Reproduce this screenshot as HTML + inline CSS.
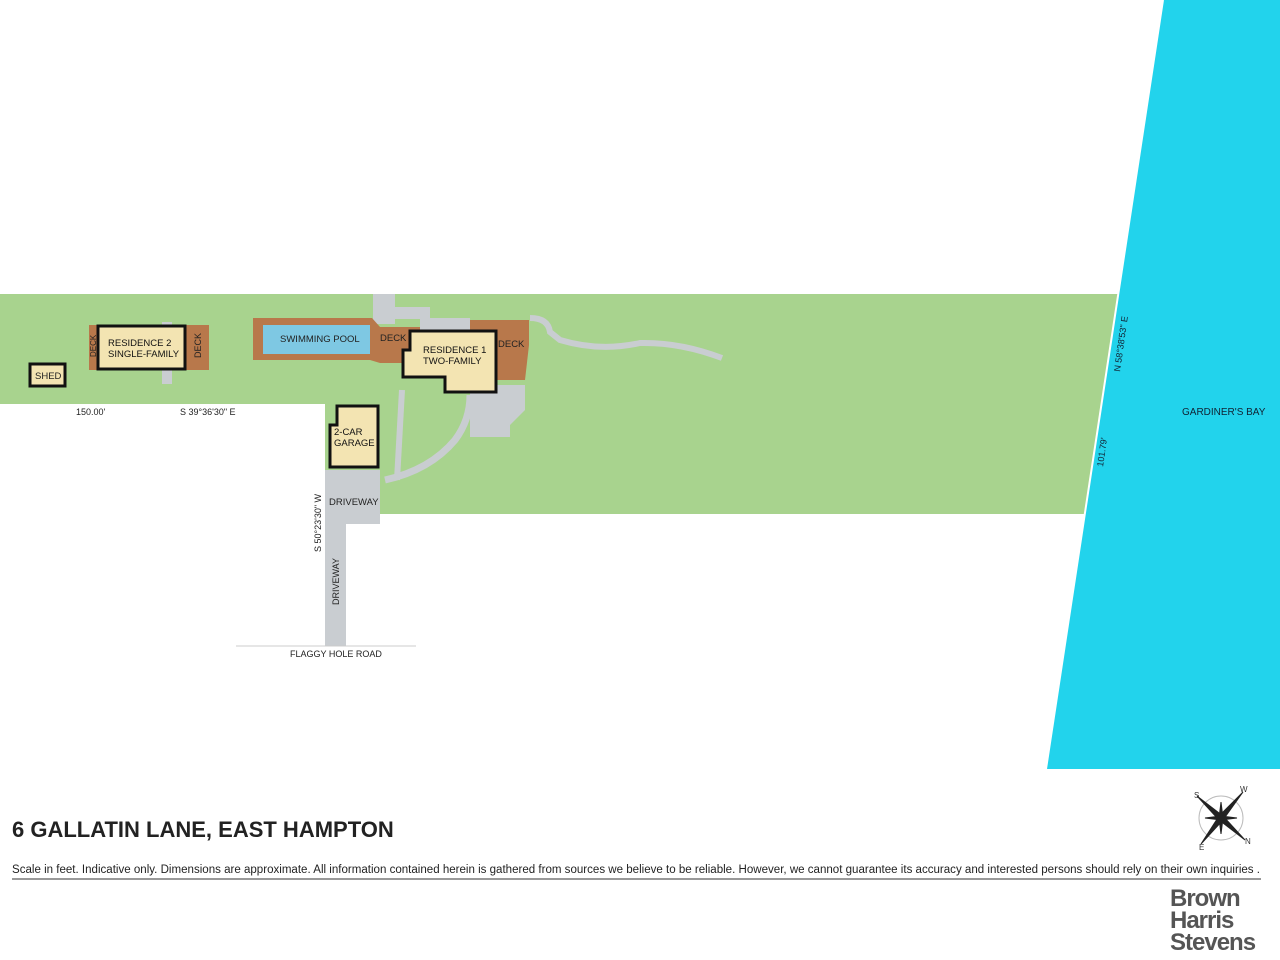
<!DOCTYPE html>
<html><head><meta charset="utf-8"><style>
body{margin:0;background:#fff;}
svg{display:block}
text{font-family:"Liberation Sans",sans-serif;}
</style></head><body>
<svg width="1280" height="960" viewBox="0 0 1280 960">
<polygon points="1163,0 1280,0 1280,769 1046,769" fill="#22d3ec"/>
<polygon points="0,294 1118,294 1085,514 380,514 380,470 325,470 325,404 0,404" fill="#a8d38e"/>
<line x1="1163" y1="0" x2="1046" y2="769" stroke="#fff" stroke-width="2"/>
<rect x="325" y="470" width="55" height="54" fill="#c9cdd1"/>
<rect x="325" y="524" width="21" height="122" fill="#c9cdd1"/>
<line x1="236" y1="646" x2="416" y2="646" stroke="#ccc" stroke-width="1"/>
<path d="M385,480 Q430,470 455,440 Q470,420 470,395" stroke="#c9cdd1" stroke-width="7" fill="none"/>
<path d="M402,390 L397,480" stroke="#c9cdd1" stroke-width="6" fill="none"/>
<polygon points="470,385 525,385 525,410 510,425 510,437 470,437" fill="#c9cdd1"/>
<rect x="373" y="294" width="22" height="30" fill="#c9cdd1"/>
<rect x="395" y="307" width="35" height="12" fill="#c9cdd1"/>
<rect x="420" y="318" width="50" height="30" fill="#c9cdd1"/>
<path d="M530,318 Q548,318 550,332 L560,340 Q600,352 640,343 Q680,342 722,358" stroke="#c9cdd1" stroke-width="6" fill="none"/>
<polygon points="253,318 372,318 380,327 420,327 420,363 380,363 370,360 253,360" fill="#b8784b"/>
<rect x="263" y="325" width="107" height="29" fill="#7ec8e3"/>
<polygon points="470,320 529,320 529,345 525,380 470,380" fill="#b8784b"/>
<polygon points="410,331 496,331 496,392 445,392 445,377 403,377 403,350 410,350" fill="#f3e4b2" stroke="#111" stroke-width="3"/>
<rect x="89" y="325" width="120" height="45" fill="#b8784b"/>
<rect x="162" y="322" width="10" height="62" fill="#c9cdd1"/>
<rect x="98" y="326" width="87" height="43" fill="#f3e4b2" stroke="#111" stroke-width="3"/>
<rect x="30" y="364" width="35" height="22" fill="#f3e4b2" stroke="#111" stroke-width="3"/>
<polygon points="337,406 378,406 378,467 330,467 330,425 337,425" fill="#f3e4b2" stroke="#111" stroke-width="3"/>
<g font-size="9.5" fill="#222">
<text x="280" y="342">SWIMMING POOL</text>
<text x="380" y="341">DECK</text>
<text x="498" y="347">DECK</text>
<text x="423" y="353" fill="#111">RESIDENCE 1</text>
<text x="423" y="364" fill="#111">TWO-FAMILY</text>
<text x="108" y="346" fill="#111">RESIDENCE 2</text>
<text x="108" y="357" fill="#111">SINGLE-FAMILY</text>
<text x="35" y="379">SHED</text>
<text x="334" y="435" fill="#111">2-CAR</text>
<text x="334" y="446" fill="#111">GARAGE</text>
<text x="329" y="505">DRIVEWAY</text>
<text transform="translate(339,605) rotate(-90)" font-size="9">DRIVEWAY</text>
<text transform="translate(96,357) rotate(-90)" font-size="8">DECK</text>
<text transform="translate(201,358) rotate(-90)" font-size="9">DECK</text>
<text x="76" y="415" font-size="9">150.00'</text>
<text x="180" y="415" font-size="9">S 39°36'30" E</text>
<text transform="translate(321,552) rotate(-90)" font-size="9">S 50°23'30" W</text>
<text x="290" y="657" font-size="9">FLAGGY HOLE ROAD</text>
<text transform="translate(1120,372) rotate(-82)" font-size="9" fill="#123">N 58°38'53" E</text>
<text transform="translate(1103,467) rotate(-82)" font-size="9" fill="#123">101.79'</text>
<text x="1182" y="415" font-size="10" fill="#123">GARDINER'S BAY</text>
</g>
<text x="12" y="837" font-size="22" font-weight="bold" fill="#222">6 GALLATIN LANE, EAST HAMPTON</text>
<text x="12" y="873" font-size="11.5" fill="#222" textLength="1248" lengthAdjust="spacingAndGlyphs">Scale in feet. Indicative only. Dimensions are approximate. All information contained herein is gathered from sources we believe to be reliable. However, we cannot guarantee its accuracy and interested persons should rely on their own  inquiries .</text>
<line x1="12" y1="879" x2="1261" y2="879" stroke="#333" stroke-width="1"/>
<g transform="translate(1221,818)" stroke="#222" fill="#222">
<circle r="22" fill="none" stroke="#bbb"/>
<polygon points="-24,-22 2,-2 -2,2" /><polygon points="22,-26 2,2 -2,-2"/>
<polygon points="24,22 -2,2 2,-2"/><polygon points="-20,26 -2,-2 2,2"/>
<polygon points="0,-16 2,0 0,16 -2,0" /><polygon points="-16,0 0,2 16,0 0,-2"/>
</g>
<g font-size="8" fill="#333"><text x="1194" y="798">S</text><text x="1240" y="792">W</text><text x="1245" y="844">N</text><text x="1199" y="850">E</text></g>
<g font-size="24" font-weight="bold" fill="#555" letter-spacing="-1">
<text x="1170" y="906">Brown</text><text x="1170" y="928">Harris</text><text x="1170" y="950">Stevens</text>
</g>
</svg>
</body></html>
